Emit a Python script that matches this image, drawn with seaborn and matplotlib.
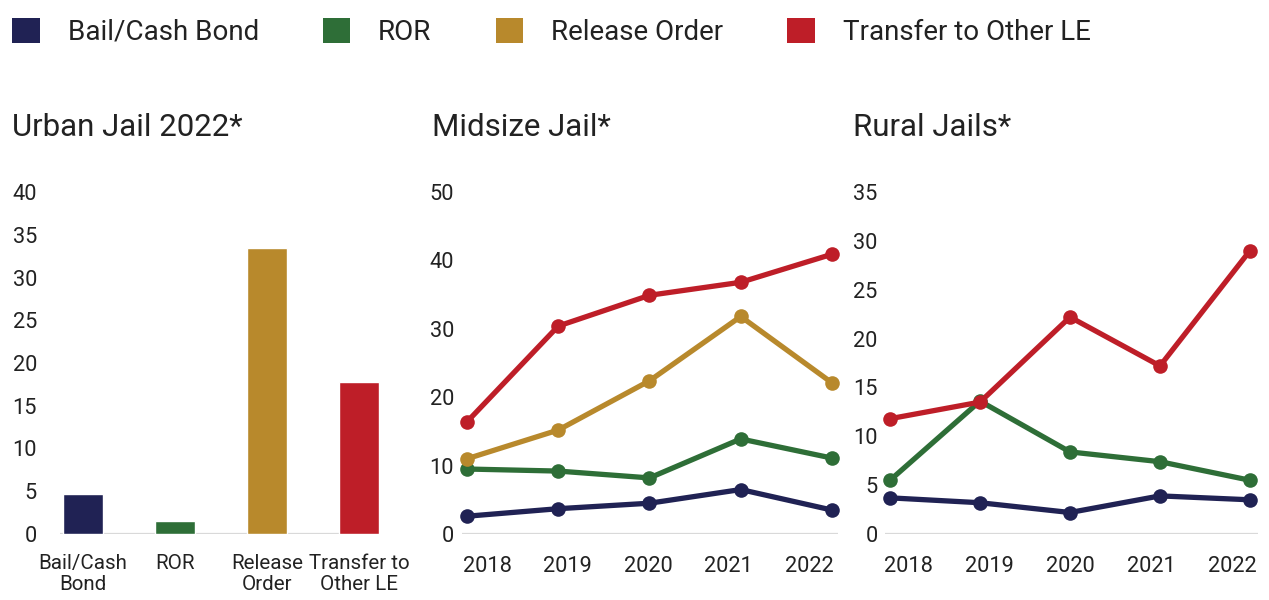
import matplotlib
matplotlib.use("Agg")
import matplotlib.pyplot as plt
from matplotlib.patches import Patch
import numpy as np
import pandas as pd
import seaborn as sns

# Release categories and their colours
categories = ["Bail/Cash Bond", "ROR", "Release Order", "Transfer to Other LE"]
bar_labels = ["Bail/Cash\nBond", "ROR", "Release\nOrder", "Transfer to\nOther LE"]
colors = ["#202254", "#2e6e37", "#b8892c", "#be1e28"]

# Urban jail, 2022
urban_values = [4.7, 1.5, 33.4, 17.8]

years = [2018, 2019, 2020, 2021, 2022]
year_labels = ["2018", "2019", "2020", "2021", "2022"]

# Midsize jail by year
mid_bail = [2.6, 3.7, 4.5, 6.5, 3.5]
mid_ror = [9.5, 9.2, 8.2, 13.9, 11.1]
mid_release = [11.0, 15.2, 22.4, 31.8, 22.1]
mid_transfer = [16.4, 30.4, 34.9, 36.8, 40.9]

# Rural jails by year (no release-order series)
rural_bail = [3.7, 3.2, 2.2, 3.9, 3.5]
rural_ror = [5.5, 13.6, 8.4, 7.4, 5.5]
rural_transfer = [11.8, 13.5, 22.2, 17.2, 29.0]

sns.set_theme(style="white")
plt.rcParams["font.family"] = ["Roboto", "DejaVu Sans"]
TEXT = "#222222"
TICK_SIZE = 15.7

W, H = 1269, 600
fig = plt.figure(figsize=(W / 100, H / 100), dpi=100)
fig.patch.set_facecolor("white")


def px_axes(left, right, bottom, top):
    return fig.add_axes([left / W, 1 - bottom / H, (right - left) / W, (bottom - top) / H])


def style_axes(ax, ypad, xpad):
    for s in ax.spines.values():
        s.set_visible(False)
    ax.axhline(0, color="#d9d9d9", lw=1.6, zorder=0)
    ax.tick_params(axis="both", length=0, labelsize=TICK_SIZE, colors=TEXT)
    ax.tick_params(axis="y", pad=ypad)
    ax.tick_params(axis="x", pad=xpad)
    ax.set_xlabel("")
    ax.set_ylabel("")
    ax.grid(False)


# Urban bar chart
ax1 = px_axes(60, 380, 534, 192)
df_bar = pd.DataFrame({"category": categories, "value": urban_values})
sns.barplot(data=df_bar, x="category", y="value", hue="category",
            palette=colors, width=0.435, legend=False, ax=ax1, saturation=1)
ax1.set_xlim(-0.25, 3.228)
ax1.set_ylim(0, 40)
ax1.set_yticks(range(0, 41, 5))
ax1.set_xticks(range(4), bar_labels, linespacing=1.12)
style_axes(ax1, 16.5, 14.5)
ax1.tick_params(axis="x", labelsize=14.8)


def line_panel(ax, series, names, ylim, ystep, xlim, tickpos):
    rows = []
    for name, vals in zip(names, series):
        for y, v in zip(years, vals):
            rows.append({"year": y, "series": name, "value": v})
    df = pd.DataFrame(rows)
    pal = {c: col for c, col in zip(categories, colors)}
    sns.lineplot(data=df, x="year", y="value", hue="series", hue_order=names,
                 palette=pal, marker="o", markersize=10.5, markeredgewidth=0,
                 linewidth=3.8, legend=False, ax=ax, clip_on=False)
    ax.set_xlim(*xlim)
    ax.set_ylim(0, ylim)
    ax.set_yticks(range(0, ylim + 1, ystep))
    ax.set_xticks(tickpos, year_labels)


ax2 = px_axes(462, 838, 534, 192)
line_panel(ax2, [mid_bail, mid_ror, mid_release, mid_transfer],
           categories, 50, 10, (2017.945, 2022.066),
           np.linspace(2018.22, 2021.75, 5))
style_axes(ax2, 5.8, 15.5)

ax3 = px_axes(885, 1258, 534, 192)
line_panel(ax3, [rural_bail, rural_ror, rural_transfer],
           [categories[0], categories[1], categories[3]], 35, 5,
           (2017.944, 2022.089), np.linspace(2018.21, 2021.8, 5))
style_axes(ax3, 5.2, 15.5)

# Panel titles
for x, t in [(12, "Urban Jail 2022*"), (432, "Midsize Jail*"), (853, "Rural Jails*")]:
    fig.text(x / W, 1 - 128 / H, t, fontsize=22.5, color=TEXT, ha="left", va="center")

# Shared legend
handles = [Patch(facecolor=c, edgecolor="none", label=l) for c, l in zip(colors, categories)]
fig.legend(handles=handles, loc="center left", bbox_to_anchor=(12 / W, 1 - 32 / H),
           ncol=4, frameon=False, fontsize=20, handlelength=1.0, handleheight=1.0,
           handletextpad=1.0, columnspacing=2.3, borderpad=0, borderaxespad=0,
           labelcolor=TEXT)

fig.savefig("out.png", dpi=100, facecolor="white")
